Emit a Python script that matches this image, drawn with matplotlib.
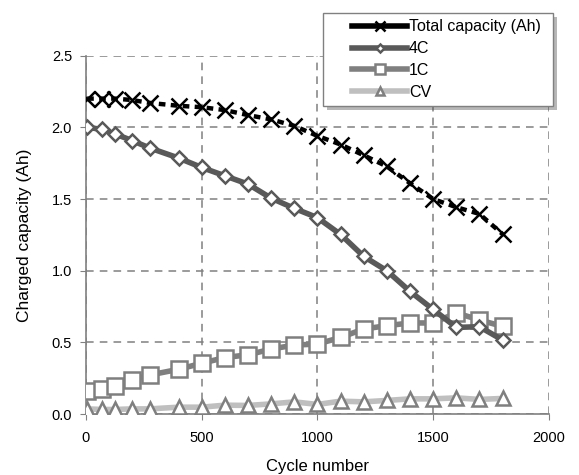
import matplotlib
matplotlib.use('Agg')
import matplotlib.pyplot as plt
import matplotlib.patheffects as pe
from matplotlib.patches import Rectangle

plt.rcParams['font.family'] = ['Liberation Sans', 'DejaVu Sans']

# cycle numbers of the measurements
cycles = [5, 70, 125, 200, 275, 400, 500, 600, 700, 800, 900,
          1000, 1100, 1200, 1300, 1400, 1500, 1600, 1700, 1800]

total_cap = [2.20, 2.20, 2.20, 2.19, 2.17, 2.15, 2.14, 2.12, 2.085, 2.055, 2.01,
             1.94, 1.88, 1.805, 1.727, 1.61, 1.50, 1.443, 1.396, 1.255]
cap_4c = [2.00, 1.985, 1.954, 1.907, 1.856, 1.786, 1.72, 1.662, 1.604, 1.506, 1.435,
          1.37, 1.253, 1.10, 1.00, 0.856, 0.73, 0.605, 0.61, 0.517]
cap_1c = [0.161, 0.173, 0.196, 0.238, 0.273, 0.313, 0.355, 0.395, 0.414, 0.454, 0.482,
          0.489, 0.535, 0.594, 0.617, 0.636, 0.636, 0.706, 0.657, 0.612]
cap_cv = [0.037, 0.033, 0.033, 0.037, 0.037, 0.049, 0.049, 0.063, 0.061, 0.072, 0.086,
          0.068, 0.091, 0.086, 0.096, 0.107, 0.107, 0.114, 0.103, 0.110]

xticks = [0, 500, 1000, 1500, 2000]
yticks = [0.0, 0.5, 1.0, 1.5, 2.0, 2.5]

fig = plt.figure(figsize=(5.79, 4.75), dpi=100)
ax = fig.add_axes([0.1485, 0.128, 0.7995, 0.755])

ax.plot(cycles, cap_cv, color='#bfbfbf', lw=4, marker='^', ms=10,
        mfc='white', mec='#7f7f7f', mew=1.8, label='CV', zorder=3)
ax.plot(cycles, cap_1c, color='#7f7f7f', lw=4, marker='s', ms=11,
        mfc='white', mec='#7f7f7f', mew=1.8, label='1C', zorder=4)
ax.plot(cycles, cap_4c, color='#595959', lw=4, marker='D', ms=7.5,
        mfc='white', mec='#595959', mew=1.8, label='4C', zorder=5)
ax.plot(cycles, total_cap, color='black', lw=3.2, ls=(0, (1.5, 1.2)), marker='x', ms=11,
        mec='black', mew=1.8, label='Total capacity (Ah)', zorder=6)

ax.set_xlim(0, 2000)
ax.set_ylim(0, 2.5)
ax.set_xticks(xticks)
ax.set_yticks(yticks)
ax.set_yticklabels(['%.1f' % v for v in yticks])
ax.tick_params(labelsize=10.5, direction='out', length=4, color='#808080')
ax.tick_params(axis='x', pad=8)
ax.tick_params(axis='y', pad=6)
ax.grid(True, ls=(0, (5, 4)), color='#808080', lw=1.1)
for s in ['top', 'right']:
    ax.spines[s].set_visible(False)
for s in ['left', 'bottom']:
    ax.spines[s].set_color('#808080')
    ax.spines[s].set_linewidth(1.2)

ax.set_xlabel('Cycle number', fontsize=12, labelpad=10)
ax.set_ylabel('Charged capacity (Ah)', fontsize=12.5, labelpad=14)

# legend box with shadow, drawn by hand so it can be wider than its entries
bx, by, bw, bh = 323 / 579, 1 - 106 / 475, 230 / 579, 93 / 475
box = Rectangle((bx, by), bw, bh, transform=fig.transFigure, facecolor='white',
                edgecolor='#808080', lw=1.0, zorder=9)
box.set_path_effects([pe.SimplePatchShadow(offset=(3, -3), alpha=0.4), pe.Normal()])
fig.patches.append(box)

handles, labels = ax.get_legend_handles_labels()
leg = fig.legend(handles[::-1], labels[::-1], loc='center',
                 bbox_to_anchor=(bx + bw / 2 + 0.015, by + bh / 2), fontsize=11.5,
                 frameon=False, handlelength=3.4, handletextpad=0.15,
                 labelspacing=0.42, borderpad=0.0, markerscale=0.6)
leg.set_zorder(10)
for h in leg.legend_handles:
    h.set_linestyle('-')
    h.set_linewidth(4)

fig.savefig('out.png', dpi=100)
